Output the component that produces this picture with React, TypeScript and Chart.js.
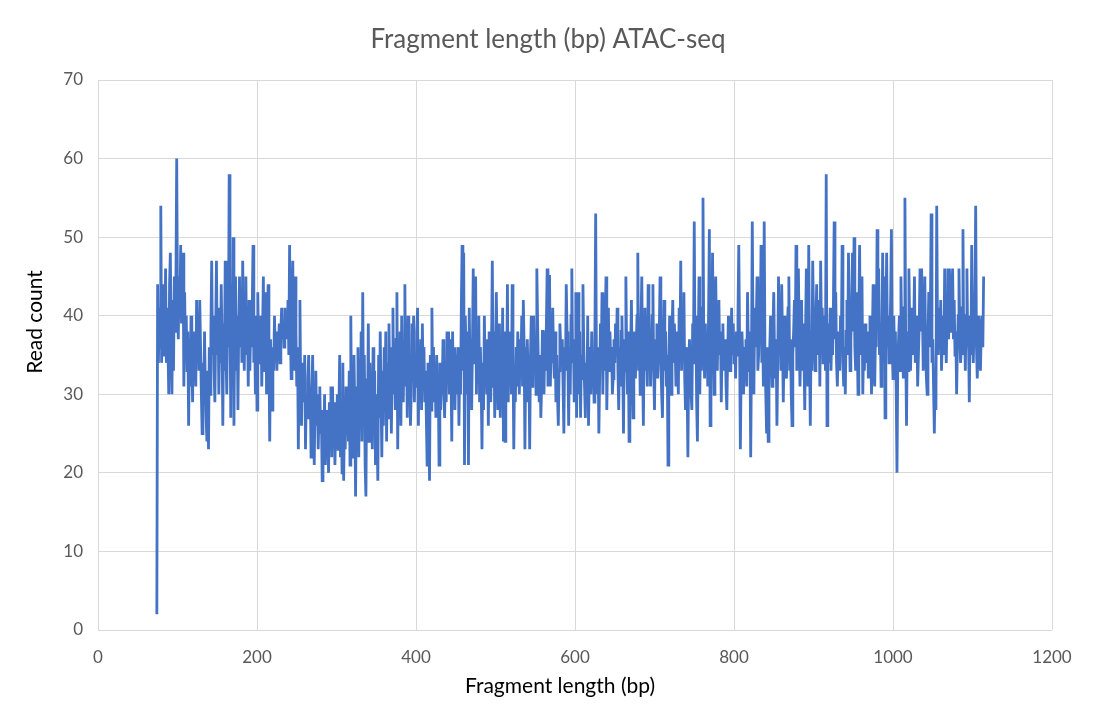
import { useEffect, useRef } from 'react';
import { Chart, registerables } from 'chart.js';
import type { Plugin } from 'chart.js';

Chart.register(...registerables);

// read count per fragment length, one value per bp
const START_BP = 74;

// bp 74 - 293
const readsA = [
  2, 44, 34, 41, 36, 54, 34, 40, 35, 44,
  37, 46, 34, 41, 36, 30, 44, 48, 37, 30,
  42, 33, 45, 38, 44, 60, 41, 37, 45, 40,
  49, 39, 44, 48, 31, 43, 35, 40, 33, 38,
  26, 37, 31, 40, 34, 29, 38, 33, 36, 31,
  42, 35, 39, 33, 42, 36, 30, 25, 34, 29,
  38, 31, 27, 24, 33, 23, 36, 30, 38, 47,
  35, 40, 33, 29, 38, 47, 35, 41, 30, 38,
  34, 44, 37, 26, 39, 33, 47, 35, 30, 41,
  36, 58, 40, 27, 44, 35, 50, 26, 39, 45,
  33, 40, 28, 38, 45, 36, 42, 34, 47, 38,
  33, 41, 45, 35, 40, 31, 42, 33, 38, 36,
  41, 49, 34, 38, 30, 40, 28, 43, 35, 39,
  34, 40, 31, 38, 45, 33, 36, 43, 30, 38,
  44, 35, 24, 37, 31, 28, 36, 33, 40, 35,
  38, 33, 37, 36, 39, 34, 38, 41, 37, 39,
  36, 41, 38, 40, 37, 42, 35, 49, 38, 32,
  40, 47, 36, 33, 45, 38, 31, 36, 23, 34,
  42, 30, 26, 34, 33, 29, 35, 23, 30, 27,
  32, 35, 28, 31, 22, 30, 35, 27, 21, 29,
  33, 26, 30, 23, 28, 31, 25, 27, 19, 28,
  24, 30, 21, 28, 23, 26, 20, 29, 24, 31,
];

// bp 294 - 503
const readsB = [
  22, 31, 25, 29, 21, 26, 24, 30, 23, 28,
  35, 22, 28, 20, 34, 19, 27, 23, 31, 25,
  29, 24, 33, 21, 40, 26, 30, 22, 35, 28,
  17, 31, 25, 36, 22, 33, 27, 38, 24, 43,
  28, 35, 21, 17, 32, 26, 39, 24, 34, 28,
  31, 23, 36, 27, 33, 21, 30, 25, 19, 35,
  27, 38, 30, 22, 33, 26, 36, 29, 38, 24,
  34, 27, 39, 31, 36, 25, 33, 41, 30, 35,
  28, 37, 43, 23, 35, 31, 38, 26, 40, 33,
  29, 36, 44, 31, 38, 27, 40, 33, 35, 26,
  30, 39, 33, 40, 29, 35, 31, 38, 41, 26,
  35, 30, 37, 28, 39, 32, 36, 29, 33, 27,
  21, 34, 30, 19, 35, 28, 41, 31, 36, 29,
  33, 27, 35, 30, 32, 21, 34, 28, 33, 31,
  37, 30, 27, 34, 29, 38, 32, 38, 30, 37,
  33, 24, 38, 31, 36, 28, 35, 30, 33, 36,
  26, 34, 30, 41, 49, 33, 48, 21, 40, 35,
  30, 38, 21, 41, 33, 37, 28, 36, 46, 34,
  39, 45, 30, 37, 33, 40, 29, 36, 31, 23,
  34, 28, 40, 32, 35, 30, 37, 26, 38, 33,
  29, 36, 47, 31, 38, 27, 34, 43, 36, 28,
];

// bp 504 - 713
const readsC = [
  33, 39, 27, 35, 30, 41, 24, 38, 24, 37,
  31, 44, 29, 36, 33, 38, 30, 44, 35, 23,
  33, 29, 36, 31, 38, 34, 30, 37, 33, 40,
  31, 42, 36, 23, 34, 29, 37, 32, 35, 23,
  35, 40, 31, 38, 40, 34, 36, 30, 46, 39,
  33, 29, 35, 27, 31, 38, 38, 30, 37, 33,
  39, 46, 31, 45, 45, 31, 37, 34, 41, 35,
  32, 38, 29, 35, 30, 26, 33, 39, 36, 34,
  37, 31, 25, 36, 33, 44, 38, 35, 26, 36,
  30, 40, 46, 34, 37, 29, 36, 43, 27, 35,
  43, 30, 38, 27, 35, 32, 44, 36, 31, 27,
  34, 30, 40, 26, 33, 36, 30, 38, 32, 35,
  29, 37, 53, 33, 30, 36, 25, 32, 39, 34,
  43, 30, 37, 33, 39, 45, 28, 35, 41, 33,
  38, 34, 36, 30, 32, 37, 34, 39, 35, 41,
  33, 28, 36, 31, 38, 40, 34, 25, 37, 33,
  45, 35, 30, 38, 24, 33, 36, 42, 31, 27,
  35, 38, 32, 36, 40, 48, 33, 37, 30, 39,
  45, 34, 26, 37, 41, 33, 36, 31, 44, 35,
  38, 31, 36, 40, 44, 33, 28, 37, 34, 39,
  32, 36, 38, 45, 34, 30, 27, 36, 42, 33,
];

// bp 714 - 923
const readsD = [
  38, 31, 35, 21, 33, 40, 36, 30, 38, 42,
  34, 39, 36, 31, 38, 34, 30, 41, 35, 47,
  33, 38, 37, 43, 32, 28, 36, 31, 22, 34,
  37, 33, 30, 28, 39, 35, 52, 34, 40, 29,
  24, 36, 45, 30, 38, 33, 41, 55, 36, 32,
  39, 34, 37, 31, 40, 51, 26, 38, 35, 48,
  36, 30, 41, 45, 37, 33, 39, 42, 35, 38,
  29, 36, 39, 34, 33, 37, 31, 28, 35, 40,
  38, 33, 36, 41, 35, 39, 34, 37, 32, 38,
  35, 40, 49, 37, 23, 33, 38, 35, 30, 36,
  33, 37, 31, 43, 36, 33, 38, 22, 35, 52,
  37, 30, 41, 36, 39, 45, 33, 35, 40, 37,
  49, 34, 38, 31, 52, 34, 30, 25, 36, 24,
  33, 36, 40, 34, 31, 38, 43, 35, 32, 37,
  26, 34, 45, 35, 39, 33, 44, 37, 29, 36,
  40, 34, 32, 38, 41, 45, 33, 37, 30, 26,
  35, 38, 42, 36, 49, 33, 40, 46, 37, 31,
  36, 42, 33, 39, 35, 28, 38, 46, 34, 31,
  49, 35, 26, 38, 33, 47, 40, 37, 33, 39,
  44, 35, 37, 42, 31, 47, 38, 41, 34, 37,
  40, 33, 58, 26, 39, 34, 36, 41, 33, 38,
];

// bp 924 - 1114
const readsE = [
  35, 41, 52, 37, 43, 34, 31, 36, 38, 33,
  40, 36, 49, 34, 31, 36, 30, 38, 42, 35,
  48, 39, 33, 37, 41, 48, 38, 50, 36, 33,
  43, 37, 30, 40, 49, 35, 41, 45, 30, 36,
  33, 39, 37, 34, 38, 32, 36, 40, 35, 30,
  37, 44, 33, 31, 38, 36, 51, 40, 46, 35,
  39, 31, 37, 48, 34, 45, 27, 38, 48, 36,
  40, 34, 37, 42, 51, 36, 32, 40, 35, 38,
  31, 20, 34, 37, 40, 33, 45, 37, 36, 32,
  41, 55, 36, 26, 38, 33, 46, 39, 33, 37,
  41, 35, 38, 45, 34, 37, 40, 31, 35, 39,
  46, 38, 46, 41, 33, 39, 45, 36, 32, 30,
  37, 43, 36, 40, 53, 34, 37, 31, 25, 33,
  28, 54, 38, 35, 41, 36, 42, 33, 37, 40,
  35, 46, 39, 34, 40, 46, 37, 46, 41, 38,
  43, 46, 37, 42, 35, 38, 30, 36, 40, 46,
  38, 34, 36, 41, 51, 35, 38, 33, 40, 46,
  36, 37, 29, 40, 35, 49, 38, 34, 39, 41,
  54, 36, 32, 37, 40, 35, 33, 38, 40, 36,
  45,
];

const xTicks = [0, 200, 400, 600, 800, 1000, 1200];
const yTicks = [0, 10, 20, 30, 40, 50, 60, 70];

const CHART_TITLE = 'Fragment length (bp) ATAC-seq';
const X_TITLE = 'Fragment length (bp)';
const Y_TITLE = 'Read count';

const FONT = "Lato, 'Open Sans', 'DejaVu Sans', sans-serif";
const GRID = '#d9d9d9';
const TEXT_GRAY = '#595959';

// Títulos dibujados a mano: Excel no los centra sobre el área de trazado
const titlesPlugin: Plugin<'line'> = {
  id: 'excelTitles',
  afterDraw: (chart) => {
    const { ctx } = chart;
    ctx.save();
    ctx.textAlign = 'center';
    ctx.textBaseline = 'middle';

    ctx.font = `26px ${FONT}`;
    ctx.fillStyle = TEXT_GRAY;
    ctx.fillText(CHART_TITLE, 548, 40);

    ctx.font = `21px ${FONT}`;
    ctx.fillStyle = '#000000';
    ctx.fillText(X_TITLE, 560, 686);

    ctx.translate(35, 322);
    ctx.rotate(-Math.PI / 2);
    ctx.fillText(Y_TITLE, 0, 0);
    ctx.restore();
  },
};

export default function App() {
  const canvasRef = useRef<HTMLCanvasElement>(null);

  useEffect(() => {
    if (!canvasRef.current) return;
    const reads = [...readsA, ...readsB, ...readsC, ...readsD, ...readsE];
    const points = reads.map((y, i) => ({ x: START_BP + i, y }));

    const chart = new Chart(canvasRef.current, {
      type: 'line',
      data: {
        datasets: [{
          label: Y_TITLE,
          data: points,
          borderColor: '#4472C4',
          borderWidth: 2.8,
          pointRadius: 0,
          tension: 0,
          fill: false,
        }],
      },
      options: {
        animation: false,
        responsive: true,
        maintainAspectRatio: false,
        layout: { padding: { left: 0, right: 41, top: 80, bottom: 0 } },
        plugins: {
          legend: { display: false },
          tooltip: { enabled: false },
          title: { display: false },
        },
        scales: {
          x: {
            type: 'linear',
            min: xTicks[0],
            max: xTicks[xTicks.length - 1],
            afterBuildTicks: (scale) => { scale.ticks = xTicks.map(v => ({ value: v })); },
            afterFit: (scale) => { scale.height = 74; },
            grid: { color: GRID, lineWidth: 1, drawTicks: false },
            border: { display: false },
            ticks: {
              color: TEXT_GRAY,
              font: { family: FONT, size: 17 },
              padding: 17,
              maxRotation: 0,
              callback: (value) => String(value),
            },
          },
          y: {
            min: yTicks[0],
            max: yTicks[yTicks.length - 1],
            afterBuildTicks: (scale) => { scale.ticks = yTicks.map(v => ({ value: v })); },
            afterFit: (scale) => { scale.width = 98; },
            grid: { color: GRID, lineWidth: 1, drawTicks: false },
            border: { display: false },
            ticks: {
              color: TEXT_GRAY,
              font: { family: FONT, size: 17 },
              padding: 15,
              callback: (value) => String(value),
            },
          },
        },
      },
      plugins: [titlesPlugin],
    });

    return () => chart.destroy();
  }, []);

  return (
    <div style={{ position: 'fixed', left: 0, top: 0, width: 1093, height: 704, background: '#ffffff' }}>
      <canvas ref={canvasRef} />
    </div>
  );
}
